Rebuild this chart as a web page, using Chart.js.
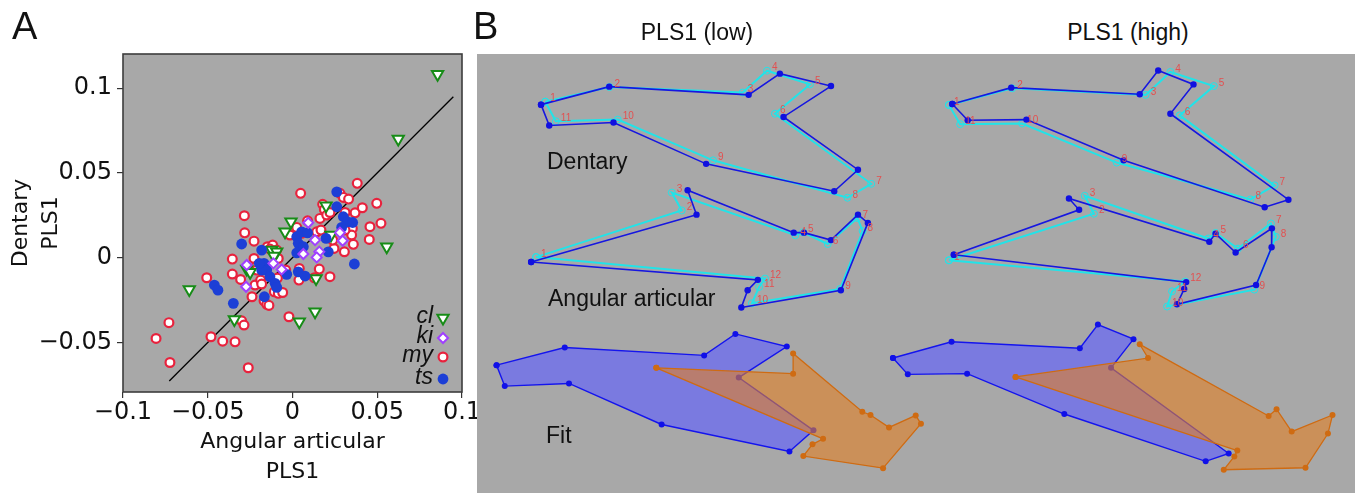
<!DOCTYPE html>
<html>
<head>
<meta charset="utf-8">
<title>PLS1 covariation of angular articular and dentary</title>
<script src="https://cdn.jsdelivr.net/npm/chart.js@4.4.1/dist/chart.umd.min.js"></script>
<style>
  html, body { margin: 0; padding: 0; background: #fff; width: 1360px; height: 493px; overflow: hidden; }
  #wrap { position: relative; width: 1360px; height: 493px; }
  canvas { position: absolute; }
  #scatter { left: 0; top: 0; }
  #shapes { left: 477px; top: 54px; background: #a8a8a8; }
  .lbl { position: absolute; font-family: "Liberation Sans", Arial, sans-serif; color: #111; white-space: nowrap; line-height: 1; }
  .panel { font-size: 38px; }
  .head { font-size: 23px; transform: translateX(-50%); }
  .part { font-size: 23px; }
</style>
</head>
<body>
<div id="wrap">
  <canvas id="scatter" width="477" height="493"></canvas>
  <canvas id="shapes" width="878" height="439"></canvas>
  <div class="lbl panel" style="left:12px; top:7px;">A</div>
  <div class="lbl panel" style="left:473px; top:7px;">B</div>
  <div class="lbl head" style="left:697px; top:21px;">PLS1 (low)</div>
  <div class="lbl head" style="left:1128px; top:21px;">PLS1 (high)</div>
  <div class="lbl part" style="left:547px; top:150px;">Dentary</div>
  <div class="lbl part" style="left:548px; top:287px;">Angular articular</div>
  <div class="lbl part" style="left:546px; top:424px;">Fit</div>
</div>
<script>
// ---------- Panel A: PLS1 scores, angular articular (x) vs dentary (y) ----------
const xTickValues = [-0.1, -0.05, 0, 0.05, 0.1];
const xTickLabels = ['\u22120.1', '\u22120.05', '0', '0.05', '0.1'];
const yTickValues = [-0.05, 0, 0.05, 0.1];
const yTickLabels = ['\u22120.05', '0', '0.05', '0.1'];

// reduced major axis through the scores
const fitLineX = [-0.0727, 0.0949];
const fitLineY = [-0.0727, 0.0950];

const clScores = [
  [0.0856, 0.1082], [0.0624, 0.0700], [0.0556, 0.0065], [-0.0609, -0.0187], [-0.0343, -0.0364],
  [0.0040, -0.0378], [0.0133, -0.0319], [-0.0009, 0.0212], [-0.0044, 0.0153], [0.0198, 0.0307],
  [0.0227, 0.0134], [-0.0270, -0.0067], [-0.0250, -0.0085], [-0.0123, 0.0045], [-0.0093, 0.0035],
  [0.0139, -0.0122], [-0.0110, 0.0010]
];
const kiScores = [
  [-0.0270, -0.0043], [-0.0274, -0.0171], [-0.0113, -0.0033], [-0.0064, -0.0069], [0.0093, 0.0206],
  [0.0133, 0.0104], [0.0158, 0.0036], [0.0143, 0.0002], [0.0280, 0.0148], [0.0296, 0.0100],
  [0.0064, 0.0022]
];
const myScores = [
  [-0.0805, -0.0476], [-0.0729, -0.0383], [-0.0723, -0.0618], [-0.0481, -0.0466], [-0.0412, -0.0492],
  [-0.0339, -0.0496], [-0.0300, -0.0372], [-0.0286, -0.0397], [-0.0261, -0.0649], [-0.0506, -0.0118],
  [-0.0355, -0.0008], [-0.0355, -0.0096], [-0.0306, -0.0128], [-0.0284, 0.0248], [-0.0282, 0.0147],
  [-0.0227, 0.0098], [-0.0227, -0.0004], [-0.0239, -0.0230], [-0.0168, -0.0254], [-0.0152, -0.0275],
  [-0.0139, -0.0281], [-0.0107, -0.0201], [-0.0084, -0.0210], [-0.0058, -0.0205], [-0.0021, -0.0348],
  [-0.0089, -0.0120], [-0.0211, -0.0049], [-0.0211, -0.0073], [-0.0221, -0.0161], [-0.0188, -0.0132],
  [-0.0148, 0.0065], [-0.0117, 0.0075], [-0.0093, 0.0045], [-0.0084, -0.0004], [-0.0040, -0.0073],
  [-0.0015, 0.0134], [0.0025, 0.0179], [0.0048, 0.0380], [0.0089, 0.0218], [0.0054, 0.0144],
  [0.0040, -0.0063], [0.0038, -0.0132], [0.0129, -0.0118], [0.0158, -0.0067], [0.0221, -0.0112],
  [0.0143, 0.0153], [0.0168, 0.0163], [0.0162, 0.0232], [0.0178, 0.0315], [0.0188, 0.0285],
  [0.0202, 0.0252], [0.0221, 0.0267], [0.0280, 0.0380], [0.0300, 0.0356], [0.0331, 0.0346],
  [0.0382, 0.0439], [0.0310, 0.0267], [0.0369, 0.0265], [0.0412, 0.0295], [0.0457, 0.0183],
  [0.0497, 0.0321], [0.0522, 0.0203], [0.0453, 0.0108], [0.0359, 0.0079], [0.0353, 0.0173],
  [0.0349, 0.0134], [0.0306, 0.0035], [0.0245, 0.0055], [0.0237, 0.0104], [0.0310, 0.0163],
  [-0.0133, 0.0051], [-0.0182, -0.0155]
];
const tsScores = [
  [-0.0300, 0.0081], [-0.0461, -0.0161], [-0.0440, -0.0191], [-0.0349, -0.0269], [-0.0182, 0.0045],
  [-0.0168, -0.0033], [-0.0152, -0.0073], [-0.0133, -0.0112], [-0.0103, -0.0151], [-0.0093, -0.0175],
  [-0.0034, -0.0098], [-0.0166, -0.0230], [-0.0182, -0.0073], [0.0025, 0.0124], [0.0034, 0.0085],
  [0.0054, 0.0153], [0.0089, 0.0147], [0.0025, 0.0029], [0.0064, 0.0065], [0.0034, -0.0083],
  [0.0074, -0.0108], [0.0211, 0.0035], [0.0198, 0.0114], [0.0261, 0.0301], [0.0261, 0.0389],
  [0.0300, 0.0242], [0.0324, 0.0212], [0.0355, 0.0208], [0.0365, -0.0037], [0.0290, 0.0179],
  [-0.0196, -0.0033]
];
const keyNames = ['cl', 'ki', 'my', 'ts'];

const toXY = pts => pts.map(([x, y]) => ({ x, y }));

// grey plotting field and dark frame
const plotFrame = {
  id: 'plotFrame',
  beforeDraw(chart) {
    const { ctx, chartArea: a } = chart;
    ctx.save();
    ctx.fillStyle = '#a8a8a8';
    ctx.fillRect(a.left, a.top, a.right - a.left, a.bottom - a.top);
    ctx.restore();
  },
  afterDraw(chart) {
    const { ctx, chartArea: a } = chart;
    ctx.save();
    ctx.strokeStyle = '#3c3c3c';
    ctx.lineWidth = 1.6;
    ctx.strokeRect(a.left, a.top, a.right - a.left, a.bottom - a.top);
    ctx.restore();
  }
};

// species key in the lower right corner: italic name, then its marker
const speciesKey = {
  id: 'speciesKey',
  afterDatasetsDraw(chart) {
    const { ctx, chartArea: a } = chart;
    const rowOffsets = [-74, -54, -35, -13];
    keyNames.forEach((name, i) => {
      const ds = chart.data.datasets.find(d => d.label === name);
      const y = a.bottom + rowOffsets[i];
      ctx.save();
      ctx.font = 'italic 23px "Liberation Sans", Arial, sans-serif';
      ctx.fillStyle = '#111';
      ctx.textAlign = 'right';
      ctx.textBaseline = 'middle';
      ctx.fillText(name, a.right - 29, y - 1);
      ctx.fillStyle = ds.pointBackgroundColor;
      ctx.strokeStyle = ds.pointBorderColor;
      ctx.lineWidth = ds.pointBorderWidth;
      if (Chart.helpers && Chart.helpers.drawPoint) {
        Chart.helpers.drawPoint(ctx, {
          pointStyle: ds.pointStyle, radius: ds.pointRadius,
          rotation: ds.pointRotation || 0, borderWidth: ds.pointBorderWidth
        }, a.right - 19, y);
      }
      ctx.restore();
    });
  }
};

const tickFont = { family: '"DejaVu Sans", sans-serif', size: 24 };
const titleFont = { family: '"DejaVu Sans", sans-serif', size: 22, lineHeight: '30px' };
const tickGrid = { display: true, drawOnChartArea: false, drawTicks: true, tickLength: 6, color: '#333', lineWidth: 1.2 };

new Chart(document.getElementById('scatter'), {
  type: 'scatter',
  data: {
    datasets: [
      {
        label: 'fit', data: fitLineX.map((x, i) => ({ x, y: fitLineY[i] })),
        showLine: true, borderColor: '#000', borderWidth: 1.3, pointRadius: 0, order: 6
      },
      {
        label: 'my', data: toXY(myScores), pointStyle: 'circle', pointRadius: 4.4,
        pointBorderWidth: 2.2, pointBorderColor: '#e8223d', pointBackgroundColor: '#ffffff', order: 5
      },
      {
        label: 'cl', data: toXY(clScores), pointStyle: 'triangle', pointRotation: 180, pointRadius: 6.5,
        pointBorderWidth: 2, pointBorderColor: '#178c17', pointBackgroundColor: '#ffffff', order: 4
      },
      {
        label: 'ts', data: toXY(tsScores), pointStyle: 'circle', pointRadius: 5.4,
        pointBorderWidth: 0, pointBorderColor: '#1c3fd6', pointBackgroundColor: '#1c3fd6', order: 3
      },
      {
        label: 'ki', data: toXY(kiScores), pointStyle: 'rectRot', pointRadius: 5,
        pointBorderWidth: 2, pointBorderColor: '#a040ff', pointBackgroundColor: '#ffffff', order: 2
      }
    ]
  },
  options: {
    responsive: false,
    animation: false,
    events: [],
    layout: { padding: { top: 54, right: 15, left: 0, bottom: 0 } },
    plugins: { legend: { display: false }, tooltip: { enabled: false } },
    scales: {
      x: {
        type: 'linear', min: -0.1, max: 0.1,
        afterBuildTicks: s => { s.ticks = xTickValues.map(v => ({ value: v })); },
        afterFit: s => { s.height = 101; s.paddingLeft = 0; s.paddingRight = 0; },
        ticks: { font: tickFont, color: '#111', padding: 0, maxRotation: 0, autoSkip: false,
                 callback: (v, i) => xTickLabels[i] },
        grid: tickGrid,
        border: { display: false },
        title: { display: true, text: ['Angular articular', 'PLS1'], font: titleFont, color: '#111',
                 padding: { top: 0, bottom: 6 } }
      },
      y: {
        type: 'linear', min: -0.0792, max: 0.1202,
        afterBuildTicks: s => { s.ticks = yTickValues.map(v => ({ value: v })); },
        afterFit: s => { s.width = 123; s.paddingTop = 0; s.paddingBottom = 0; },
        ticks: { font: tickFont, color: '#111', padding: 5, autoSkip: false,
                 callback: (v, i) => yTickLabels[i] },
        grid: tickGrid,
        border: { display: false },
        title: { display: true, text: ['Dentary', 'PLS1'], font: titleFont, color: '#111',
                 padding: { top: 6.5, bottom: 0 } }
      }
    }
  },
  plugins: [plotFrame, speciesKey]
});

// ---------- Panel B: landmark configurations at the PLS1 extremes ----------
// mean shape (cyan, numbered) and PLS1 shape (blue)
const dentaryLowMean = [[64, 43.7], [129, 28.7], [263.7, 34.3], [288.3, 12], [331.7, 26], [296.3, 56],
  [393.7, 127.7], [369.7, 142], [233.7, 103.7], [137.3, 62], [74.7, 63.7]];
const dentaryLowPLS = [[59.7, 46.7], [128.7, 28.3], [269.7, 36.7], [301.3, 15], [353, 27.7], [305, 59.3],
  [380.3, 113.3], [356.3, 135.3], [226.7, 107.3], [133, 65], [68, 68]];
const angularLowMean = [[54.7, 202.7], [202, 155], [192, 136.7], [317, 180.3], [324.7, 177.3], [349.7, 189.3],
  [379.7, 162.7], [385, 176], [362.3, 235.3], [273, 250], [280.3, 233.3], [286.3, 224.7]];
const angularLowPLS = [[49.7, 207.7], [217, 159.3], [208, 134.3], [315.3, 177.7], [325.7, 177.7], [353, 185.3],
  [380.3, 159.3], [390.3, 167.7], [363, 236.7], [262.3, 254.3], [268.7, 236.7], [279, 226]];

const dentaryHighMean = [[472.3, 47], [536.3, 30], [671.3, 36.7], [696.3, 13.3], [740.3, 27.7], [705.7, 57.7],
  [801.7, 129.3], [777.3, 143.7], [642, 106], [546.3, 66], [483.7, 66.7]];
const dentaryHighPLS = [[475.7, 46], [535.3, 29.3], [665.3, 36], [684, 11.7], [719.7, 26], [696.3, 56],
  [815.7, 144], [791.7, 151.7], [649, 103.7], [550.7, 62], [491.3, 62.7]];
const angularHighMean = [[472.3, 206], [619, 158.3], [609.7, 140], [734.7, 183.7], [742, 178], [764.7, 194],
  [798, 168.3], [803, 182], [781.3, 236], [693, 253.3], [698, 237.7], [711.3, 227.7]];
const angularHighPLS = [[477.3, 200.3], [604, 154.3], [593.7, 142.7], [735.7, 187], [742, 178.7], [762.3, 198],
  [799, 173.3], [798.7, 192.7], [783, 231.3], [703, 251], [710.3, 235.3], [712.3, 228.3]];

// articulated fit of the two elements
const fitLowDentary = [[14.7, 313.3], [83.7, 295.3], [224.7, 303.3], [256.3, 281.3], [308.3, 294.3], [259.7, 326],
  [335.3, 380], [311, 401.7], [181.7, 374], [88, 332], [23, 334.7]];
const fitLowAngular = [[176.3, 316], [314.7, 322], [314.7, 301.3], [384.7, 361], [393, 364.3], [411.7, 377],
  [438.7, 364.7], [444, 373.3], [405.7, 418.7], [325, 406.3], [334.3, 394.3], [345, 388.7]];
const fitHighDentary = [[415.7, 306], [475, 289.3], [604.7, 296], [623, 271.7], [659, 286.7], [636.3, 316],
  [755.3, 403.7], [732, 411.7], [589, 363.3], [490.7, 322], [430.7, 322.7]];
const fitHighAngular = [[539.7, 325.3], [673.7, 306], [665.3, 292], [795.7, 365.3], [803.7, 358.3], [819, 381.3],
  [860.3, 364.3], [855.7, 383.3], [833, 418.3], [750.3, 420.3], [761, 406.7], [764, 400.7]];

// outline rings: landmarks in order, returning to the first one
const ring = pts => toXY(pts.concat([pts[0]]));

const meanOutline = (pts) => ({
  data: ring(pts), numbered: pts.length, showLine: true,
  borderColor: '#22e3e8', borderWidth: 2,
  pointStyle: 'circle', pointRadius: 3.5, pointBorderWidth: 1,
  pointBorderColor: '#22e3e8', pointBackgroundColor: 'rgba(0,0,0,0)', order: 20
});
const plsOutline = (pts) => ({
  data: ring(pts), showLine: true,
  borderColor: '#1616e0', borderWidth: 1.6,
  pointStyle: 'circle', pointRadius: 3.2, pointBorderWidth: 0,
  pointBorderColor: '#1010e0', pointBackgroundColor: '#1010e0', order: 15
});
const fitDentary = (pts) => ({
  data: ring(pts), showLine: true, fill: 'shape',
  backgroundColor: 'rgba(96,96,255,0.64)',
  borderColor: '#1414ee', borderWidth: 1.4,
  pointStyle: 'circle', pointRadius: 3, pointBorderWidth: 0,
  pointBorderColor: '#1010e8', pointBackgroundColor: '#1010e8', order: 10
});
const fitAngular = (pts) => ({
  data: ring(pts), showLine: true, fill: 'shape',
  backgroundColor: 'rgba(226,128,36,0.6)',
  borderColor: '#cf6b12', borderWidth: 1.3,
  pointStyle: 'circle', pointRadius: 3, pointBorderWidth: 0,
  pointBorderColor: '#cf6b12', pointBackgroundColor: '#cf6b12', order: 5
});

// small red landmark numbers beside the mean-shape points
const landmarkNumbers = {
  id: 'landmarkNumbers',
  afterDatasetsDraw(chart) {
    const ctx = chart.ctx;
    ctx.save();
    ctx.font = '10px "Liberation Sans", Arial, sans-serif';
    ctx.fillStyle = '#e25050';
    ctx.textAlign = 'left';
    ctx.textBaseline = 'middle';
    chart.data.datasets.forEach((ds, di) => {
      if (!ds.numbered) return;
      const meta = chart.getDatasetMeta(di);
      for (let i = 0; i < ds.numbered; i++) {
        const p = meta.data[i];
        ctx.fillText(String(i + 1), p.x + 5, p.y - 3);
      }
    });
    ctx.restore();
  }
};

new Chart(document.getElementById('shapes'), {
  type: 'scatter',
  data: {
    datasets: [
      meanOutline(dentaryLowMean), plsOutline(dentaryLowPLS),
      meanOutline(angularLowMean), plsOutline(angularLowPLS),
      meanOutline(dentaryHighMean), plsOutline(dentaryHighPLS),
      meanOutline(angularHighMean), plsOutline(angularHighPLS),
      fitDentary(fitLowDentary), fitAngular(fitLowAngular),
      fitDentary(fitHighDentary), fitAngular(fitHighAngular)
    ]
  },
  options: {
    responsive: false,
    animation: false,
    events: [],
    layout: { padding: 0 },
    plugins: { legend: { display: false }, tooltip: { enabled: false } },
    scales: {
      x: { type: 'linear', display: false, min: 0, max: 878 },
      y: { type: 'linear', display: false, min: 0, max: 439, reverse: true }
    }
  },
  plugins: [landmarkNumbers]
});
</script>
</body>
</html>
